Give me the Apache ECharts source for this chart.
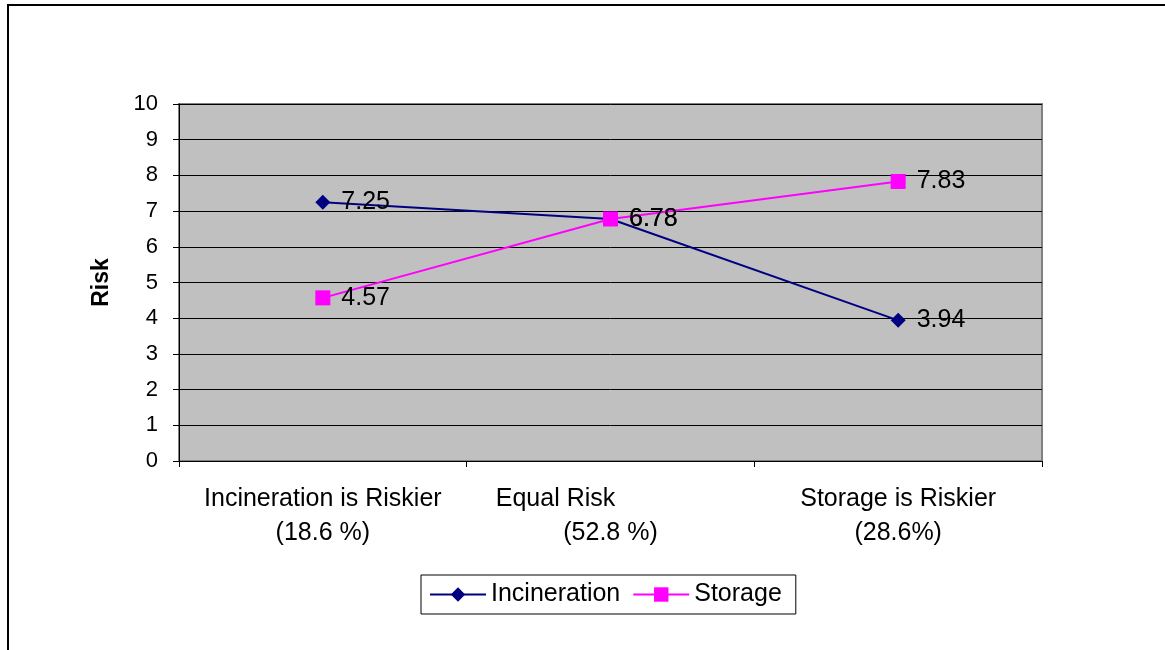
<!DOCTYPE html>
<html>
<head>
<meta charset="utf-8">
<script src="https://cdn.jsdelivr.net/npm/echarts@6/dist/echarts.min.js"></script>
<style>
  html, body { margin: 0; padding: 0; background: #fff; }
  #chart { width: 1165px; height: 650px; }
</style>
</head>
<body>
<div id="chart"></div>
<script>
// Risk perception by group
const categories = [
  'Incineration is Riskier\n(18.6 %)',
  'Equal Risk\n(52.8 %)',
  'Storage is Riskier\n(28.6%)'
];
const incineration = [7.25, 6.78, 3.94];
const storage = [4.57, 6.78, 7.83];
const yTicks = [0, 1, 2, 3, 4, 5, 6, 7, 8, 9, 10];

const FONT = 'Liberation Sans, Arial, sans-serif';
const chart = echarts.init(document.getElementById('chart'));

function catLabel(value) {
  const parts = value.split('\n');
  if (parts[0] === 'Equal Risk') {
    return '{shift|' + parts[0] + '}\n{plain|' + parts[1] + '}';
  }
  return '{plain|' + parts[0] + '}\n{plain|' + parts[1] + '}';
}

chart.setOption({
  animation: false,
  backgroundColor: '#ffffff',
  graphic: [{
    type: 'rect',
    shape: { x: 8, y: 5, width: 1200, height: 700 },
    style: { fill: 'none', stroke: '#000', lineWidth: 2 },
    silent: true
  }],
  grid: {
    left: 179, top: 104, right: 123, bottom: 189,
    show: true,
    backgroundColor: '#C0C0C0',
    borderColor: '#808080',
    borderWidth: 2
  },
  legend: {
    left: 421, top: 575,
    itemWidth: 56, itemHeight: 18,
    itemGap: 12,
    padding: [7, 14, 7, 8],
    borderColor: '#000', borderWidth: 1,
    backgroundColor: '#fff',
    textStyle: { fontFamily: FONT, fontSize: 25, color: '#000' },
    data: ['Incineration', 'Storage']
  },
  xAxis: {
    type: 'category',
    data: categories,
    boundaryGap: true,
    axisLine: { lineStyle: { color: '#000', width: 1 } },
    axisTick: { show: true, length: 6, lineStyle: { color: '#000' } },
    splitLine: { show: false },
    axisLabel: {
      margin: 21,
      interval: 0,
      formatter: catLabel,
      rich: {
        plain: { fontFamily: FONT, fontSize: 25, color: '#000', lineHeight: 34, align: 'center' },
        shift: { fontFamily: FONT, fontSize: 25, color: '#000', lineHeight: 34, padding: [0, 110, 0, 0] }
      }
    }
  },
  yAxis: {
    type: 'value',
    min: 0, max: 10, interval: 1,
    name: 'Risk',
    nameLocation: 'middle',
    nameGap: 66,
    nameTextStyle: { fontFamily: FONT, fontSize: 23, fontWeight: 'bold', color: '#000' },
    axisLine: { show: true, lineStyle: { color: '#000', width: 1 } },
    axisTick: { show: true, length: 6, lineStyle: { color: '#000' } },
    splitLine: { show: true, lineStyle: { color: '#000', width: 1 } },
    axisLabel: {
      margin: 21,
      fontFamily: FONT, fontSize: 22, color: '#000',
      formatter: function (v) { return yTicks.indexOf(v) >= 0 ? String(v) : ''; }
    }
  },
  series: [
    {
      name: 'Incineration',
      type: 'line',
      data: incineration,
      symbol: 'diamond',
      symbolSize: 15,
      z: 3,
      lineStyle: { color: '#000080', width: 2 },
      itemStyle: { color: '#000080' },
      label: {
        show: true, position: 'right', distance: 11,
        fontFamily: FONT, fontSize: 25, color: '#000'
      }
    },
    {
      name: 'Storage',
      type: 'line',
      data: storage,
      symbol: 'rect',
      symbolSize: 15,
      z: 4,
      lineStyle: { color: '#FF00FF', width: 2 },
      itemStyle: { color: '#FF00FF' },
      label: {
        show: true, position: 'right', distance: 11,
        fontFamily: FONT, fontSize: 25, color: '#000'
      }
    }
  ]
});
</script>
</body>
</html>
